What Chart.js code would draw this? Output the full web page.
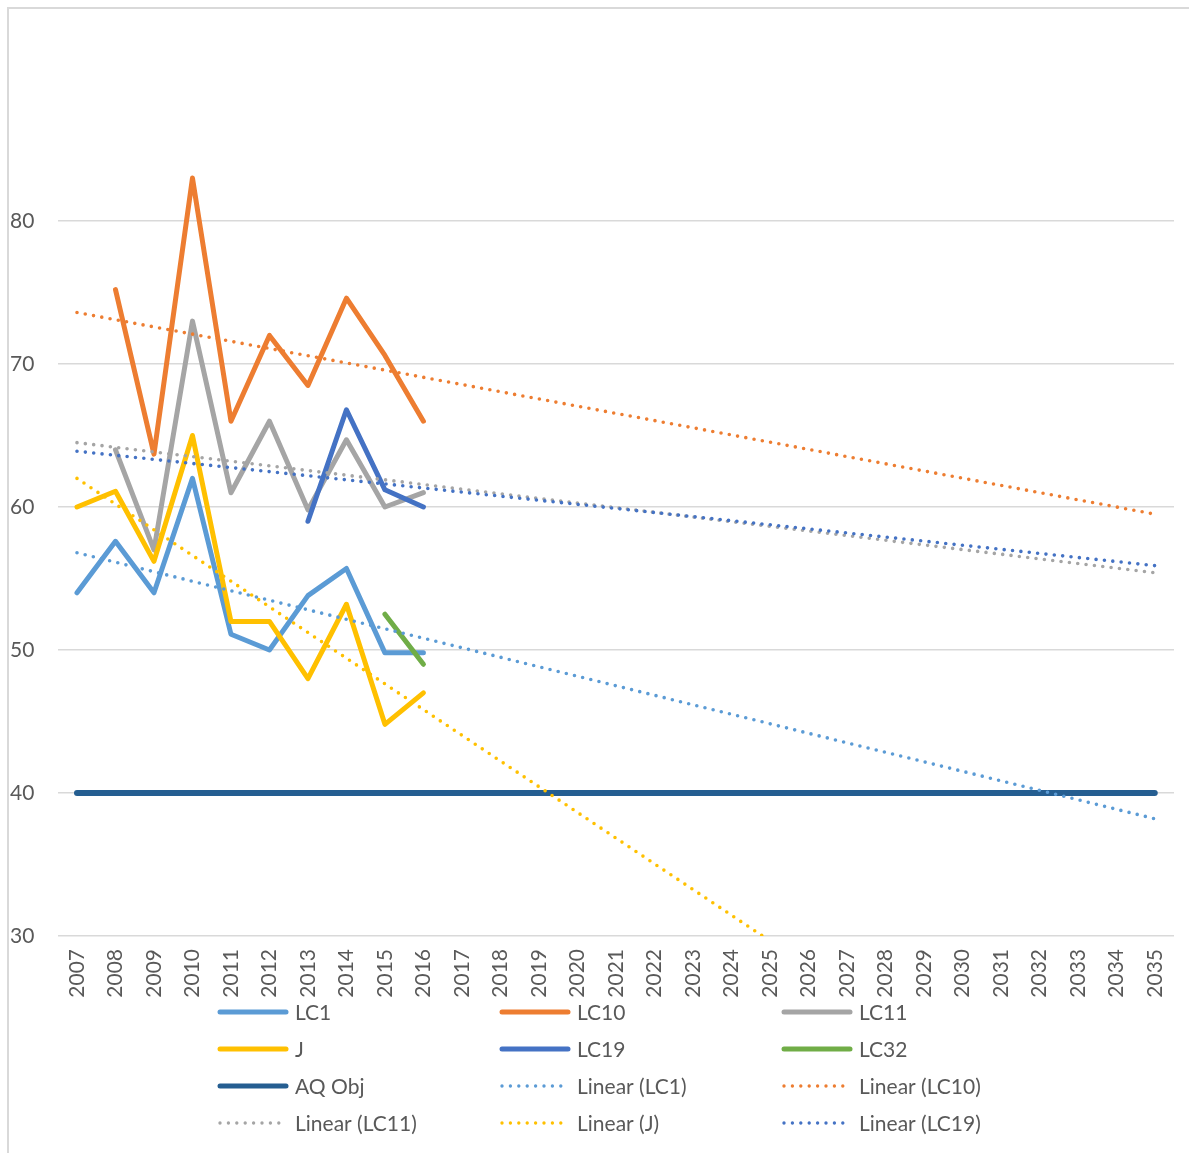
<!DOCTYPE html>
<html>
<head>
<meta charset="utf-8">
<title>Annual mean NO2 by site</title>
<script src="https://cdn.jsdelivr.net/npm/chart.js@4/dist/chart.umd.min.js"></script>
<style>
  html, body { margin: 0; padding: 0; background: #ffffff; }
  #wrap { position: absolute; left: 0; top: 0; width: 1189px; height: 1153px; overflow: hidden; }
  #frame {
    position: absolute; left: 7px; top: 7px; width: 1300px; height: 1300px;
    border-top: 2px solid #d9d9d9; border-left: 2px solid #d9d9d9;
    box-sizing: border-box; pointer-events: none;
  }
  canvas { position: absolute; left: 0; top: 0; }
</style>
</head>
<body>
<div id="wrap">
  <canvas id="chart" width="1189" height="1153"></canvas>
  <div id="frame"></div>
</div>
<script>
// Category axis: one label per year
const years = ['2007', '2008', '2009', '2010', '2011', '2012', '2013', '2014', '2015', '2016',
  '2017', '2018', '2019', '2020', '2021', '2022', '2023', '2024', '2025', '2026',
  '2027', '2028', '2029', '2030', '2031', '2032', '2033', '2034', '2035'];

// Measured annual means per site (2007 onwards)
const lc1  = [54, 57.6, 54, 62, 51.1, 50, 53.8, 55.7, 49.8, 49.8];
const lc10 = [null, 75.2, 63.7, 83, 66, 72, 68.5, 74.6, 70.6, 66];
const lc11 = [null, 64, 57, 73, 61, 66, 59.8, 64.7, 60, 61];
const siteJ = [60, 61.1, 56.2, 65, 52, 52, 48, 53.2, 44.8, 47];
const lc19 = [null, null, null, null, null, null, 59, 66.8, 61.2, 60];
const lc32 = [null, null, null, null, null, null, null, null, 52.5, 49];

// Air quality objective, every year
const aqObj = [40, 40, 40, 40, 40, 40, 40, 40, 40, 40, 40, 40, 40, 40, 40,
  40, 40, 40, 40, 40, 40, 40, 40, 40, 40, 40, 40, 40, 40];

// Linear trend lines: value at 2007 and at 2035
const trendLC1  = [56.8, 38.2];
const trendLC10 = [73.6, 59.5];
const trendLC11 = [64.5, 55.4];
const trendJ    = [62.0, 11.7];
const trendLC19 = [63.9, 55.9];

// Value axis
const yMin = 30, yMax = 90, yStep = 10, yLastLabel = 80;

const C = {
  lc1: '#5B9BD5', lc10: '#ED7D31', lc11: '#A5A5A5', j: '#FFC000',
  lc19: '#4472C4', lc32: '#70AD47', aq: '#255E91', text: '#595959', grid: '#D9D9D9'
};

function solid(label, data, color, width) {
  return {
    label, data, borderColor: color, backgroundColor: color,
    borderWidth: width, pointRadius: 0, pointHoverRadius: 0,
    borderCapStyle: 'round', borderJoinStyle: 'round',
    tension: 0, fill: false, spanGaps: false
  };
}
function trend(label, ends, color) {
  return {
    label,
    data: [{ x: years[0], y: ends[0] }, { x: years[years.length - 1], y: ends[1] }],
    borderColor: color, backgroundColor: color,
    borderWidth: 3.6, borderDash: [0, 8.4], borderCapStyle: 'round',
    pointRadius: 0, pointHoverRadius: 0, tension: 0, fill: false
  };
}

const datasets = [
  solid('LC1', lc1, C.lc1, 5),
  solid('LC10', lc10, C.lc10, 5),
  solid('LC11', lc11, C.lc11, 5),
  solid('J', siteJ, C.j, 5),
  solid('LC19', lc19, C.lc19, 5),
  solid('LC32', lc32, C.lc32, 5),
  solid('AQ Obj', aqObj, C.aq, 6),
  trend('Linear (LC1)', trendLC1, C.lc1),
  trend('Linear (LC10)', trendLC10, C.lc10),
  trend('Linear (LC11)', trendLC11, C.lc11),
  trend('Linear (J)', trendJ, C.j),
  trend('Linear (LC19)', trendLC19, C.lc19)
];
// later series paint over earlier ones
datasets.forEach((d, i) => { d.order = datasets.length - i; });

const FONT = 'Lato';

// Three-column legend below the axis
const gridLegend = {
  id: 'gridLegend',
  afterDraw(chart) {
    const ctx = chart.ctx;
    const cols = 3, colW = 282, rowH = 37, x0 = 218, y0 = 1012, sampleW = 70, gap = 7;
    ctx.save();
    ctx.font = '21px ' + FONT;
    ctx.textBaseline = 'middle';
    ctx.textAlign = 'left';
    chart.data.datasets.forEach((ds, i) => {
      const x = x0 + (i % cols) * colW;
      const y = y0 + Math.floor(i / cols) * rowH;
      ctx.beginPath();
      ctx.strokeStyle = ds.borderColor;
      ctx.lineWidth = ds.borderDash ? 3.4 : 5;
      ctx.lineCap = 'round';
      ctx.setLineDash(ds.borderDash || []);
      if (ds.borderDash) {
        ctx.moveTo(x + 2, y);
        ctx.lineTo(x + 66, y);
      } else {
        ctx.moveTo(x + 2, y);
        ctx.lineTo(x + sampleW - 2, y);
      }
      ctx.stroke();
      ctx.setLineDash([]);
      ctx.fillStyle = C.text;
      ctx.fillText(ds.label, x + sampleW + gap, y + 1);
    });
    ctx.restore();
  }
};

new Chart(document.getElementById('chart'), {
  type: 'line',
  data: { labels: years, datasets },
  plugins: [gridLegend],
  options: {
    responsive: false,
    animation: false,
    events: [],
    layout: { padding: { left: 10, right: 15, top: 78, bottom: 151 } },
    plugins: { legend: { display: false }, tooltip: { enabled: false }, title: { display: false } },
    scales: {
      x: {
        type: 'category',
        offset: true,
        grid: { display: false, drawTicks: false },
        border: { display: false },
        ticks: {
          autoSkip: false, maxRotation: 90, minRotation: 90, padding: 13,
          color: C.text, font: { family: FONT, size: 21 }
        },
        afterFit(scale) {
          scale.height = 66;
          scale.paddingLeft = 0;
          scale.paddingRight = 0;
        }
      },
      y: {
        min: yMin, max: yMax,
        grid: { color: C.grid, lineWidth: 1.6, drawTicks: false },
        border: { display: false },
        ticks: {
          stepSize: yStep, crossAlign: 'far', padding: 0,
          color: C.text, font: { family: FONT, size: 21 }
        },
        afterBuildTicks(scale) { scale.ticks = scale.ticks.filter(t => t.value <= yLastLabel); },
        afterFit(scale) {
          scale.width = 47.75;
          scale.paddingTop = 0;
          scale.paddingBottom = 0;
        }
      }
    }
  }
});
</script>
</body>
</html>
